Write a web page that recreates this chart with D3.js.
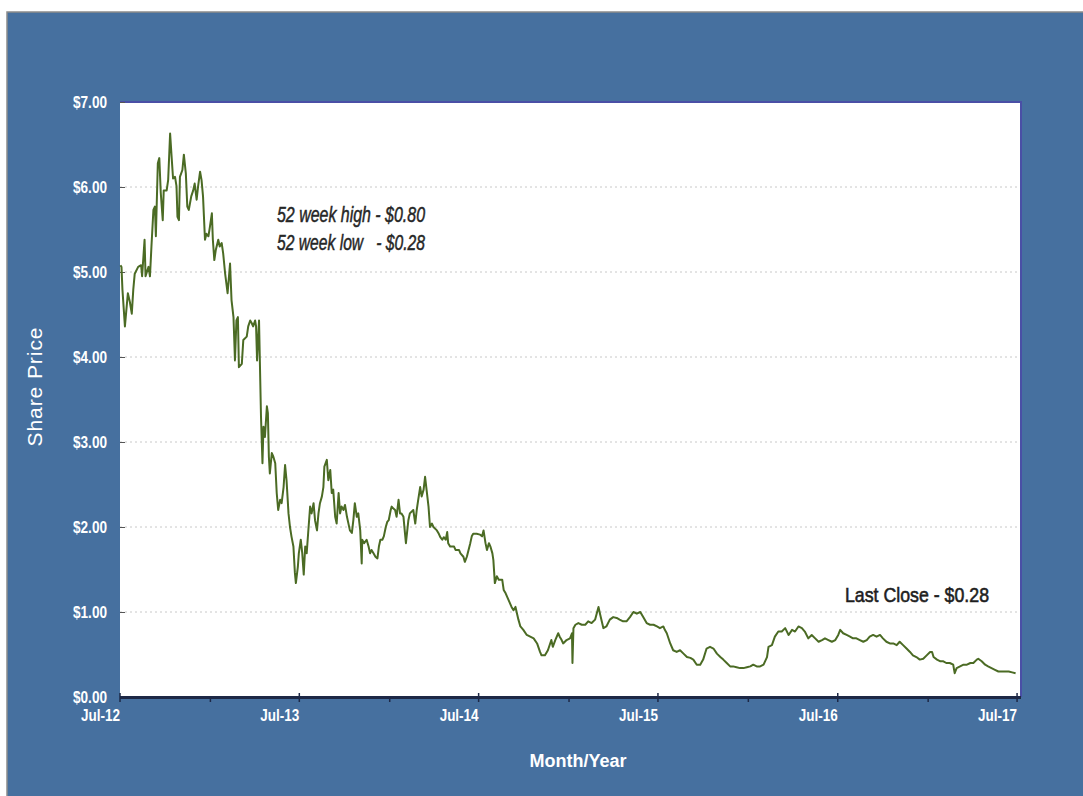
<!DOCTYPE html>
<html>
<head>
  <meta charset="UTF-8">
  <style>
    body { margin: 0; background: #fff; }
    text { font-family: "Liberation Sans", Arial, sans-serif; }
  </style>
</head>
<body>
<!-- Load d3.js -->
<script src="https://d3js.org/d3.v7.min.js"></script>

<div id="chart"></div>
<script>

// share price (date, close)
var dates = [
  "2012-07-02","2012-07-04","2012-07-06","2012-07-11","2012-07-17","2012-07-21","2012-07-25","2012-07-28","2012-07-31",
  "2012-08-07","2012-08-13","2012-08-15","2012-08-20","2012-08-22","2012-08-28","2012-08-31",
  "2012-09-03","2012-09-07","2012-09-10","2012-09-12","2012-09-16","2012-09-19","2012-09-22","2012-09-26","2012-09-28",
  "2012-10-04","2012-10-07","2012-10-11","2012-10-14","2012-10-17","2012-10-21","2012-10-24","2012-10-26","2012-10-29","2012-10-31",
  "2012-11-05","2012-11-08","2012-11-12","2012-11-15","2012-11-18","2012-11-23","2012-11-27","2012-11-30",
  "2012-12-04","2012-12-07","2012-12-11","2012-12-14","2012-12-17","2012-12-21","2012-12-24","2012-12-28","2012-12-31",
  "2013-01-04","2013-01-06","2013-01-09","2013-01-12","2013-01-17","2013-01-20","2013-01-24","2013-01-27","2013-01-31",
  "2013-02-05","2013-02-10","2013-02-13","2013-02-17","2013-02-20","2013-02-23","2013-02-26","2013-02-28",
  "2013-03-06","2013-03-09","2013-03-16","2013-03-19","2013-03-23","2013-03-26","2013-03-29",
  "2013-04-02","2013-04-04","2013-04-06","2013-04-10","2013-04-14","2013-04-17","2013-04-19","2013-04-22","2013-04-26","2013-04-28","2013-04-30",
  "2013-05-02","2013-05-06","2013-05-09","2013-05-13","2013-05-16","2013-05-19","2013-05-23","2013-05-26","2013-05-30",
  "2013-06-02","2013-06-05","2013-06-09","2013-06-12","2013-06-15","2013-06-19","2013-06-22","2013-06-24","2013-06-28","2013-06-30",
  "2013-07-04","2013-07-07","2013-07-10","2013-07-13","2013-07-16","2013-07-19","2013-07-23","2013-07-26","2013-07-30",
  "2013-08-02","2013-08-06","2013-08-09","2013-08-12","2013-08-16","2013-08-19","2013-08-21","2013-08-26","2013-08-29",
  "2013-09-02","2013-09-05","2013-09-08","2013-09-12","2013-09-15","2013-09-19","2013-09-22","2013-09-25","2013-09-29",
  "2013-10-02","2013-10-06","2013-10-09","2013-10-12","2013-10-16","2013-10-19","2013-10-22","2013-10-26","2013-10-29",
  "2013-11-02","2013-11-05","2013-11-06","2013-11-10","2013-11-15","2013-11-19","2013-11-22","2013-11-25","2013-11-29",
  "2013-12-03","2013-12-07","2013-12-10","2013-12-13","2013-12-17","2013-12-20","2013-12-24","2013-12-27","2013-12-30",
  "2014-01-03","2014-01-05","2014-01-08","2014-01-12","2014-01-15","2014-01-19","2014-01-22","2014-01-25","2014-01-29",
  "2014-02-01","2014-02-03","2014-02-08","2014-02-11","2014-02-18","2014-02-22","2014-02-25","2014-02-28",
  "2014-03-04","2014-03-07","2014-03-11","2014-03-14","2014-03-17","2014-03-21","2014-03-24","2014-03-28","2014-03-31",
  "2014-04-07","2014-04-11","2014-04-14","2014-04-18","2014-04-21","2014-04-25","2014-04-28","2014-04-30",
  "2014-05-04","2014-05-12","2014-05-15","2014-05-22","2014-05-25","2014-05-31",
  "2014-06-03","2014-06-07","2014-06-14","2014-06-17","2014-06-20","2014-06-27",
  "2014-07-04","2014-07-08","2014-07-11","2014-07-15","2014-07-18","2014-07-22","2014-07-25","2014-07-29","2014-07-31",
  "2014-08-03","2014-08-07","2014-08-11","2014-08-18","2014-08-21","2014-08-25","2014-08-31",
  "2014-09-06","2014-09-10","2014-09-14","2014-09-20","2014-09-24","2014-09-30",
  "2014-10-07","2014-10-14","2014-10-21","2014-10-28",
  "2014-11-03","2014-11-06","2014-11-13","2014-11-19","2014-11-26","2014-11-29",
  "2014-12-04","2014-12-10","2014-12-13","2014-12-17","2014-12-20","2014-12-27",
  "2015-01-03","2015-01-07","2015-01-08","2015-01-10","2015-01-14","2015-01-20","2015-01-27",
  "2015-02-03","2015-02-09","2015-02-16","2015-02-23",
  "2015-03-02","2015-03-05","2015-03-12","2015-03-18","2015-03-25",
  "2015-04-01","2015-04-08","2015-04-14","2015-04-21","2015-04-28",
  "2015-05-05","2015-05-12","2015-05-19","2015-05-26",
  "2015-06-01","2015-06-08","2015-06-15","2015-06-22","2015-06-29",
  "2015-07-05","2015-07-12","2015-07-15","2015-07-19","2015-07-26",
  "2015-08-01","2015-08-08","2015-08-15","2015-08-22","2015-08-29",
  "2015-09-05","2015-09-11","2015-09-18","2015-09-25",
  "2015-10-01","2015-10-08","2015-10-15","2015-10-22","2015-10-29",
  "2015-11-05","2015-11-11","2015-11-18","2015-11-25",
  "2015-12-01","2015-12-08","2015-12-15","2015-12-22","2015-12-29",
  "2016-01-05","2016-01-11","2016-01-18","2016-01-25",
  "2016-02-01","2016-02-08","2016-02-11","2016-02-18","2016-02-24",
  "2016-03-02","2016-03-09","2016-03-16","2016-03-23","2016-03-30",
  "2016-04-05","2016-04-12","2016-04-19","2016-04-25",
  "2016-05-02","2016-05-09","2016-05-16","2016-05-23","2016-05-30",
  "2016-06-05","2016-06-12","2016-06-19","2016-06-26",
  "2016-07-02","2016-07-06","2016-07-12","2016-07-19","2016-07-26",
  "2016-08-01","2016-08-08","2016-08-15","2016-08-22","2016-08-29",
  "2016-09-04","2016-09-11","2016-09-18","2016-09-25",
  "2016-10-01","2016-10-08","2016-10-15","2016-10-22","2016-10-29",
  "2016-11-04","2016-11-11","2016-11-18","2016-11-25",
  "2016-12-01","2016-12-08","2016-12-15","2016-12-22","2016-12-29",
  "2017-01-05","2017-01-09","2017-01-12","2017-01-19","2017-01-26",
  "2017-02-01","2017-02-07","2017-02-14","2017-02-21","2017-02-24","2017-02-28",
  "2017-03-07","2017-03-14","2017-03-21","2017-03-28",
  "2017-04-03","2017-04-10","2017-04-13","2017-04-20","2017-04-27",
  "2017-05-03","2017-05-10","2017-05-17","2017-05-24","2017-05-31",
  "2017-06-07","2017-06-14","2017-06-21","2017-06-28"
];

var prices = [
  5.08,5.06,4.79,4.36,4.75,4.65,4.51,4.79,4.98,
  5.06,5.08,4.95,5.38,4.95,5.06,4.95,
  5.30,5.73,5.77,5.42,6.28,6.34,5.93,5.61,5.96,
  5.96,6.08,6.63,6.36,6.10,6.12,6.01,5.65,5.61,6.12,
  6.20,6.38,6.16,5.77,5.73,5.89,5.96,6.04,
  5.85,6.01,6.18,6.08,5.89,5.38,5.45,5.42,5.53,
  5.69,5.38,5.14,5.26,5.38,5.30,5.34,5.22,4.98,
  4.75,5.10,4.67,4.47,3.96,4.43,4.47,3.88,
  3.92,4.20,4.24,4.36,4.43,4.40,4.36,
  4.43,4.36,3.96,4.43,3.30,2.75,3.18,3.06,3.42,3.34,2.83,
  2.63,2.87,2.83,2.75,2.40,2.20,2.32,2.28,2.47,
  2.73,2.55,2.16,2.00,1.89,1.77,1.46,1.34,1.53,1.69,
  1.85,1.69,1.44,1.77,1.69,1.93,2.24,2.16,2.28,
  2.08,1.96,2.16,2.28,2.36,2.47,2.71,2.79,2.55,
  2.67,2.40,2.44,2.12,2.04,2.40,2.16,2.24,2.20,
  2.26,2.12,2.04,1.96,1.93,2.08,2.28,2.12,2.16,
  1.96,1.57,1.85,1.81,1.85,1.77,1.69,1.73,1.69,
  1.65,1.63,1.77,1.85,1.85,1.89,2.00,2.06,2.08,
  2.20,2.24,2.22,2.20,2.12,2.32,2.16,2.16,2.12,
  1.93,1.81,2.08,2.16,2.20,2.04,2.20,2.32,
  2.47,2.36,2.44,2.59,2.44,2.24,2.00,2.04,2.00,
  1.96,1.92,1.88,1.85,1.88,1.85,1.94,1.81,
  1.77,1.77,1.73,1.73,1.69,1.65,
  1.59,1.65,1.81,1.89,1.92,1.92,
  1.91,1.89,1.96,1.81,1.73,1.81,1.77,1.69,1.61,
  1.34,1.42,1.38,1.38,1.26,1.22,1.14,
  1.06,1.02,1.06,0.91,0.83,0.79,
  0.73,0.71,0.69,0.63,
  0.53,0.49,0.49,0.55,0.67,0.59,
  0.67,0.75,0.71,0.67,0.63,0.67,
  0.69,0.75,0.40,0.81,0.85,0.87,0.85,
  0.85,0.89,0.87,0.91,
  1.06,0.98,0.81,0.83,0.91,
  0.94,0.93,0.91,0.89,0.89,
  0.94,1.00,0.98,1.00,
  0.94,0.87,0.85,0.85,0.83,
  0.81,0.83,0.79,0.75,0.63,
  0.55,0.53,0.55,0.51,0.47,
  0.46,0.44,0.38,0.38,
  0.44,0.57,0.59,0.57,0.51,
  0.47,0.44,0.40,0.36,
  0.36,0.35,0.34,0.34,0.35,
  0.36,0.38,0.36,0.36,
  0.38,0.47,0.59,0.61,0.71,
  0.77,0.77,0.81,0.73,0.79,
  0.77,0.83,0.81,0.77,
  0.69,0.73,0.69,0.65,0.67,
  0.69,0.67,0.65,0.67,
  0.73,0.79,0.75,0.73,0.71,
  0.69,0.69,0.67,0.65,0.67,
  0.71,0.73,0.71,0.73,
  0.69,0.65,0.63,0.63,0.61,
  0.65,0.61,0.57,0.53,
  0.49,0.47,0.44,0.45,0.49,
  0.53,0.53,0.47,0.44,0.42,
  0.42,0.40,0.40,0.38,0.28,0.34,
  0.36,0.38,0.38,0.40,
  0.40,0.44,0.45,0.42,0.38,
  0.36,0.34,0.32,0.30,0.30,
  0.30,0.30,0.29,0.28
];

var yTicks = [0, 1, 2, 3, 4, 5, 6, 7];
var xTickDates = ["2012-07-01","2013-07-01","2014-07-01","2015-07-01","2016-07-01","2017-07-01"];
var xTickLabels = ["Jul-12","Jul-13","Jul-14","Jul-15","Jul-16","Jul-17"];
var xMinorDates = ["2013-01-01","2014-01-01","2015-01-01","2016-01-01","2017-01-01"];
var xDomain = ["2012-07-01","2017-07-09"];

var notes = ["52 week high - $0.80", "52 week low   - $0.28"];
var lastClose = "Last Close - $0.28";

// dimensions
var W = 1083, H = 796;
var margin = {top: 102, right: 62, bottom: 99, left: 120},
  width = W - margin.left - margin.right,
  height = H - margin.top - margin.bottom;

var parse = d3.timeParse("%Y-%m-%d");
var series = dates.map(function(d, i) { return {date: parse(d), price: prices[i]}; });

var root = d3.select("#chart")
  .append("svg")
    .attr("width", W)
    .attr("height", H);

// blue panel behind the chart
root.append("rect")
  .attr("x", 7).attr("y", 12)
  .attr("width", W).attr("height", H)
  .attr("fill", "#46709f")
  .attr("stroke", "#8c8c8c")
  .attr("stroke-width", 1.5);

var svg = root.append("g")
  .attr("transform", "translate(" + margin.left + "," + margin.top + ")");

var x = d3.scaleTime()
  .domain(xDomain.map(parse))
  .range([0, width]);

var y = d3.scaleLinear()
  .domain([0, 7])
  .range([height, 0]);

// plot area
svg.append("rect")
  .attr("width", width)
  .attr("height", height)
  .attr("fill", "#ffffff");

// dotted gridlines
svg.append("g")
  .selectAll("line")
  .data(yTicks.filter(function(d) { return d > 0 && d < 7; }))
  .enter()
  .append("line")
    .attr("x1", 0)
    .attr("x2", width)
    .attr("y1", function(d) { return y(d); })
    .attr("y2", function(d) { return y(d); })
    .attr("stroke", "#c8c8c8")
    .attr("stroke-width", 1)
    .attr("stroke-dasharray", "2,3");

// top and right frame
svg.append("path")
  .attr("d", "M0," + y(7) + "H" + width + "V" + height)
  .attr("fill", "none")
  .attr("stroke", "#4a4fa6")
  .attr("stroke-width", 2);

// y axis
var yAxis = svg.append("g")
  .call(d3.axisLeft(y)
    .tickValues(yTicks)
    .tickSize(-5)
    .tickPadding(13)
    .tickFormat(function(d) { return "$" + d3.format(".2f")(d); }));
yAxis.select(".domain").remove();
yAxis.selectAll(".tick line").attr("stroke", "#555");
yAxis.selectAll("text")
  .attr("fill", "#ffffff")
  .attr("textLength", 34)
  .attr("lengthAdjust", "spacingAndGlyphs")
  .style("font-weight", "bold")
  .style("font-size", "16px");

// price line
var line = d3.line()
  .x(function(d) { return x(d.date); })
  .y(function(d) { return y(d.price); });

svg.append("path")
  .datum(series)
  .attr("d", line)
  .attr("fill", "none")
  .attr("stroke", "#4b6b24")
  .attr("stroke-width", 2)
  .attr("stroke-linejoin", "round");

// x axis line
svg.append("line")
  .attr("x1", 0).attr("x2", width)
  .attr("y1", height + 0.5).attr("y2", height + 0.5)
  .attr("stroke", "#1d2846")
  .attr("stroke-width", 3);

// major ticks (July) and minor ticks (January)
svg.append("g")
  .selectAll("line")
  .data(xTickDates)
  .enter()
  .append("line")
    .attr("x1", function(d) { return x(parse(d)); })
    .attr("x2", function(d) { return x(parse(d)); })
    .attr("y1", height - 4)
    .attr("y2", height + 5)
    .attr("stroke", "#1d2846")
    .attr("stroke-width", 1.5);

svg.append("g")
  .selectAll("line")
  .data(xMinorDates)
  .enter()
  .append("line")
    .attr("x1", function(d) { return x(parse(d)); })
    .attr("x2", function(d) { return x(parse(d)); })
    .attr("y1", height)
    .attr("y2", height + 5)
    .attr("stroke", "#1d2846")
    .attr("stroke-width", 1.5);

svg.append("g")
  .selectAll("text")
  .data(xTickDates)
  .enter()
  .append("text")
    .attr("x", function(d) { return x(parse(d)); })
    .attr("y", height + 24)
    .attr("text-anchor", "end")
    .attr("fill", "#ffffff")
    .attr("textLength", 39)
    .attr("lengthAdjust", "spacingAndGlyphs")
    .style("font-weight", "bold")
    .style("font-size", "16px")
    .text(function(d, i) { return xTickLabels[i]; });

// axis titles
root.append("text")
  .attr("transform", "translate(42,387) rotate(-90)")
  .attr("text-anchor", "middle")
  .attr("fill", "#ffffff")
  .attr("textLength", 119)
  .style("font-size", "21px")
  .text("Share Price");

root.append("text")
  .attr("x", 578)
  .attr("y", 767)
  .attr("text-anchor", "middle")
  .attr("fill", "#ffffff")
  .style("font-size", "18px")
  .style("font-weight", "bold")
  .text("Month/Year");

// annotations
root.append("g")
  .selectAll("text")
  .data(notes)
  .enter()
  .append("text")
    .attr("x", 277)
    .attr("y", function(d, i) { return 222 + i * 28; })
    .attr("textLength", 148)
    .attr("lengthAdjust", "spacingAndGlyphs")
    .attr("fill", "#262626")
    .attr("stroke", "#262626")
    .attr("stroke-width", 0.5)
    .style("white-space", "pre")
    .style("font-style", "italic")
    .style("font-size", "22px")
    .text(function(d) { return d; });

root.append("text")
  .attr("x", 845)
  .attr("y", 602)
  .attr("textLength", 144)
  .attr("lengthAdjust", "spacingAndGlyphs")
  .attr("fill", "#1e1e1e")
  .attr("stroke", "#1e1e1e")
  .attr("stroke-width", 0.6)
  .style("font-size", "21px")
  .text(lastClose);

</script>
</body>
</html>
